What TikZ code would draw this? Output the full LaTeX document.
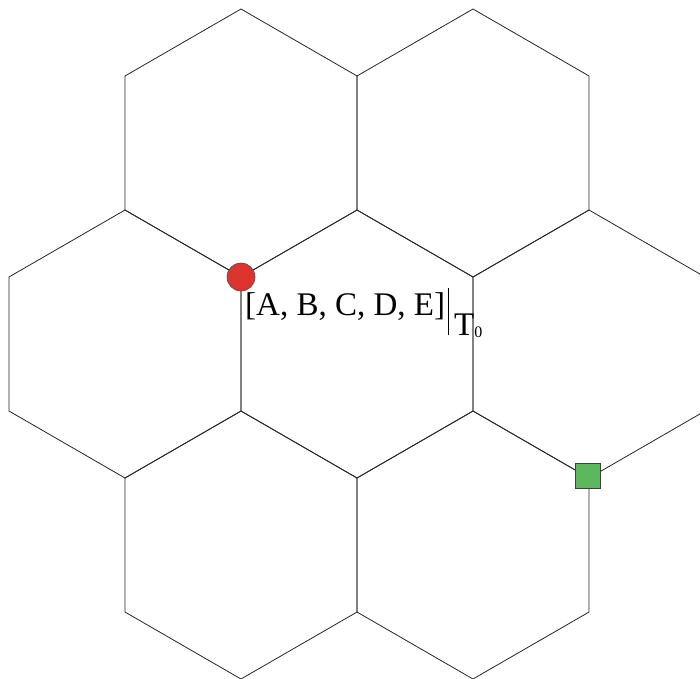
\documentclass[tikz,border=0pt]{standalone}
\usepackage{fontspec}
\setmainfont{Liberation Serif}
\usepackage{xcolor}
\usepackage{tikz}
\usetikzlibrary{shapes,positioning,calc}

\definecolor{markred}{RGB}{222,52,48}
\definecolor{markgreen}{RGB}{92,184,92}

\begin{document}
\begin{tikzpicture}[
    x=1pt, y=-1pt,
    hexline/.style={draw=black!85, line width=0.8pt},
    startmark/.style={circle, draw=black!70, fill=markred, line width=0.6pt, minimum size=28pt, inner sep=0pt},
    goalmark/.style={rectangle, draw=black!75, fill=markgreen, line width=0.6pt, minimum size=25pt, inner sep=0pt},
    tuple/.style={anchor=base west, inner sep=0pt, font=\fontsize{33}{33}\selectfont}
]

% Frame
\clip (0,0) rectangle (700,678);

% Hexagons
\foreach \cx/\cy in {241/143, 473/143, 125/344, 357/344, 589/344, 241/545, 473/545}
    \draw [hexline] (\cx,\cy) +(90:134) -- +(30:134) -- +(-30:134) -- +(-90:134) -- +(-150:134) -- +(150:134) -- cycle;

% Markers
\node (start) [startmark] at (241,277) {};
\node (goal) [goalmark] at (588,476) {};

% Label
\node (tuplelabel) [tuple] at (245,315) {[A, B, C, D, E]\hspace{3pt}\rule[-20pt]{1.2pt}{47pt}\hspace{5pt}\raisebox{-20pt}{T\raisebox{-2pt}{\fontsize{16}{16}\selectfont 0}}};

\end{tikzpicture}
\end{document}
